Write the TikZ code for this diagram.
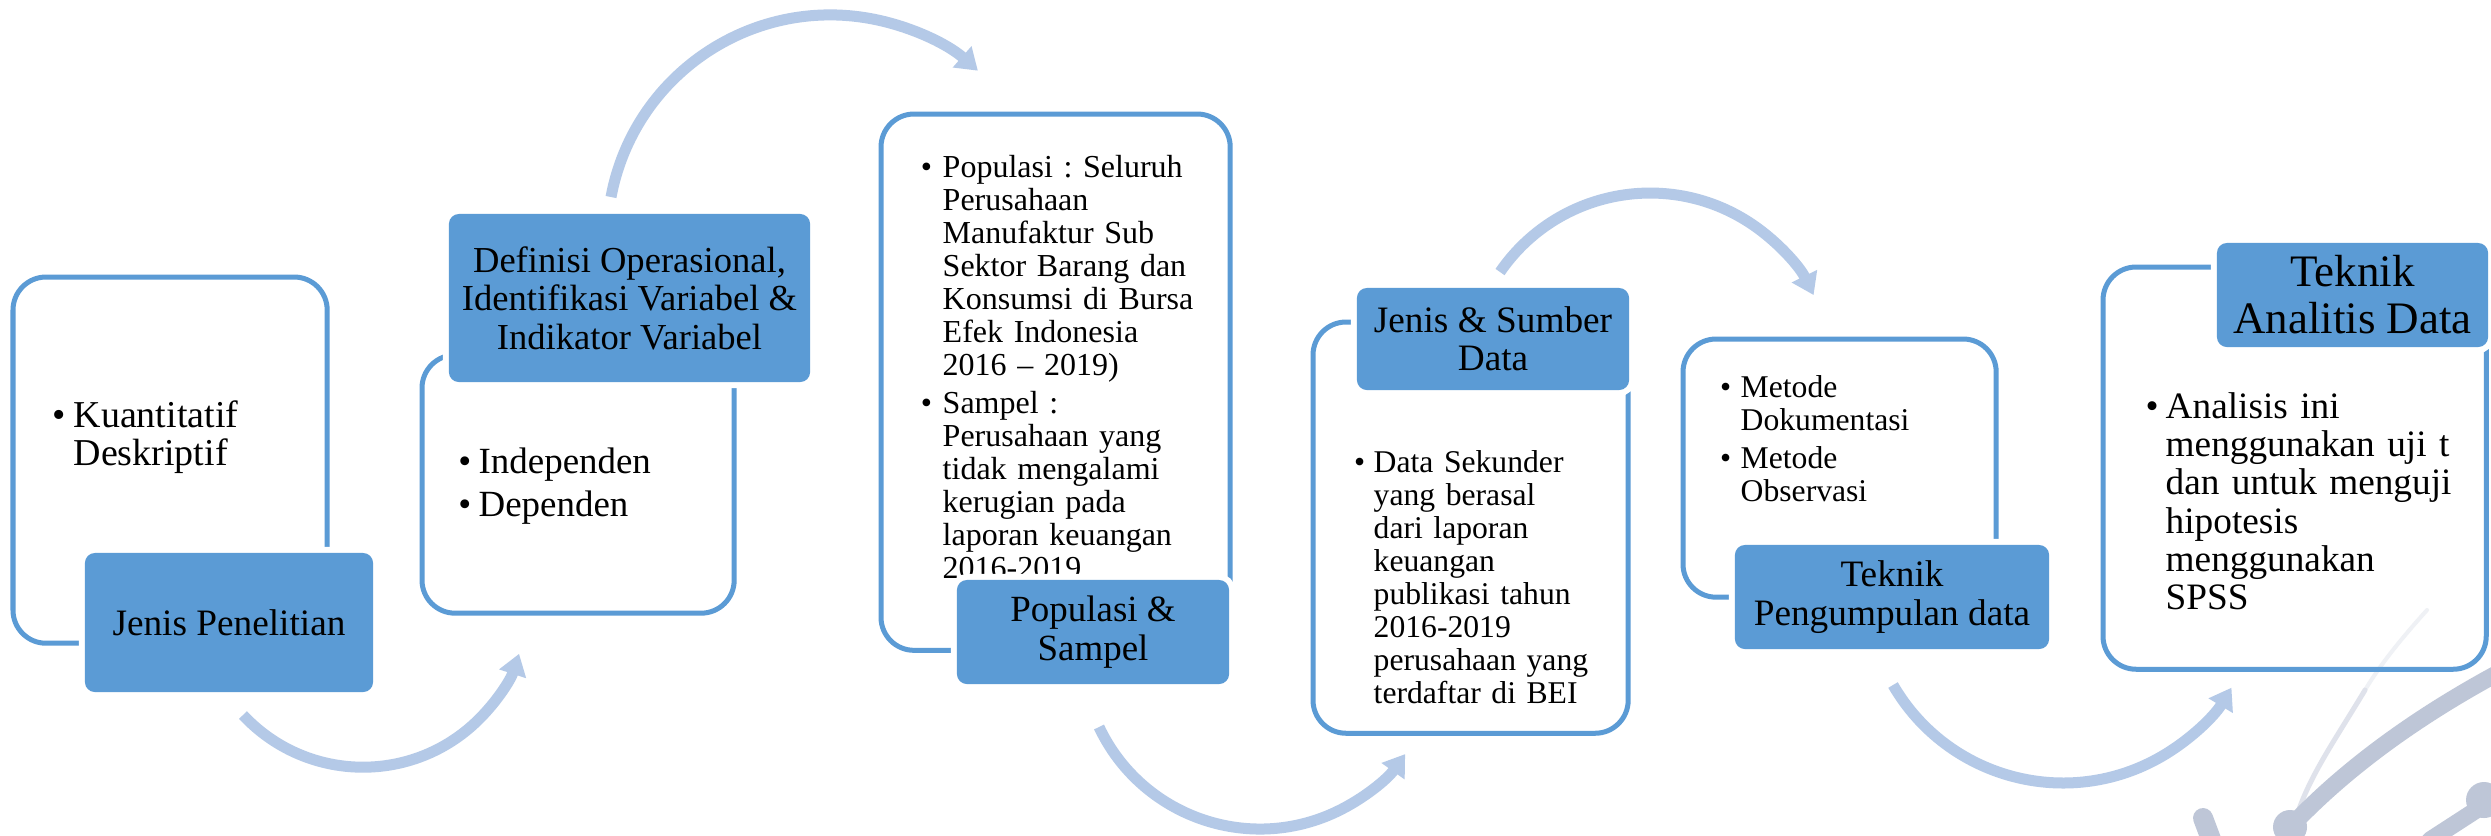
\documentclass[tikz,border=0pt]{standalone}
\usepackage{fontspec}
\setmainfont{Liberation Serif}
\usetikzlibrary{arrows.meta}
\definecolor{Accent}{HTML}{5B9BD5}
\definecolor{Flow}{HTML}{B4C9E7}
\definecolor{Mark}{HTML}{BEC6D7}
\frenchspacing
\newcommand{\bul}[1][0.2em]{\noindent\llap{\textbullet\hspace{#1}}\ignorespaces}
\tikzset{
  panel/.style={draw=Accent,line width=0.05cm,rounded corners=0.33cm,inner sep=0pt,outer sep=0pt,anchor=north west},
  tag/.style={fill=Accent,rounded corners=0.1cm,inner sep=0pt,align=center,text=black,preaction={draw=white,line width=0.12cm}},
  body/.style={anchor=base west,inner sep=0pt,text width=3.2cm,align=left},
  flow/.style={-{Triangle[width=0.27cm,length=0.21cm]},draw=Flow,line width=0.11cm},
  wmark/.style={draw=Mark,line cap=round}
}

\begin{document}
\begin{tikzpicture}[x=0.01cm,y=0.01cm]
  \useasboundingbox[fill=white] (0,0) rectangle (2491,-835);

  \begin{scope}
    \clip (0,0) rectangle (2491,-835);
    \draw[wmark,draw=Mark!25,line width=0.04cm] (2427,-610) .. controls (2400,-640) and (2380,-665) .. (2365,-690);
    \draw[wmark,draw=Mark!50,line width=0.05cm] (2365,-690) .. controls (2335,-740) and (2310,-775) .. (2297,-815);
    \draw[wmark,line width=0.17cm] (2500,-672) .. controls (2420,-715) and (2350,-765) .. (2295,-822);
    \fill[Mark] (2290,-827) circle (0.17cm);
    \draw[wmark,line width=0.2cm] (2203,-818) -- (2215,-850);
    \fill[Mark] (2484,-800) circle (0.18cm);
    \draw[wmark,line width=0.17cm] (2484,-805) -- (2430,-840);
  \end{scope}

  \node[panel,minimum width=3.14cm,minimum height=3.66cm] (p1) at (13,-277) {};
  \node[panel,minimum width=3.12cm,minimum height=2.58cm] (p2) at (422,-355) {};
  \node[panel,minimum width=3.49cm,minimum height=5.36cm] (p3) at (881,-114) {};
  \node[panel,minimum width=3.15cm,minimum height=4.11cm] (p4) at (1313,-322) {};
  \node[panel,minimum width=3.13cm,minimum height=2.58cm] (p5) at (1683,-339) {};
  \node[panel,minimum width=3.83cm,minimum height=4.02cm] (p6) at (2103,-267) {};

  \node[body,font=\fontsize{10.8}{10.8}\selectfont] (t1) at (73,-427) {\bul Kuantitatif\\Deskriptif};
  \node[body,font=\fontsize{10.5}{10.8}\selectfont] (t2) at (478,-473) {\bul Independen\\[1.7pt]\bul Dependen};
  \node[body,font=\fontsize{9.1}{9.4}\selectfont] (t3) at (942,-177) {\bul[0.33em] Populasi : Seluruh\\Perusahaan\\Manufaktur Sub\\Sektor Barang dan\\Konsumsi di Bursa\\Efek Indonesia\\2016 – 2019)\\[1.4pt]\bul[0.33em] Sampel :\\Perusahaan yang\\tidak mengalami\\kerugian pada\\laporan keuangan\\2016-2019};
  \node[body,font=\fontsize{9.0}{9.4}\selectfont] (t4) at (1373,-472) {\bul[0.27em] Data Sekunder\\yang berasal\\dari laporan\\keuangan\\publikasi tahun\\2016-2019\\perusahaan yang\\terdaftar di BEI};
  \node[body,font=\fontsize{9.0}{9.5}\selectfont] (t5) at (1740,-397) {\bul[0.3em] Metode\\Dokumentasi\\[1.3pt]\bul[0.3em] Metode\\Observasi};
  \node[body,font=\fontsize{10.6}{10.9}\selectfont] (t6) at (2165,-418) {\bul[0.19em] Analisis ini\\menggunakan~uji~t\\dan untuk menguji\\hipotesis\\menggunakan\\SPSS};

  \node[tag,minimum width=2.88cm,minimum height=1.39cm,font=\fontsize{10.6}{10.8}\selectfont] (l1) at (229,-622.5) {Jenis Penelitian};
  \node[tag,minimum width=3.61cm,minimum height=1.68cm,font=\fontsize{10.4}{10.95}\selectfont] (l2) at (629.5,-298) {Definisi Operasional,\\Identifikasi Variabel \&\\Indikator Variabel};
  \node[tag,minimum width=2.72cm,minimum height=1.04cm,font=\fontsize{10.5}{11.1}\selectfont] (l3) at (1093,-632) {Populasi \&\\Sampel};
  \node[tag,minimum width=2.72cm,minimum height=1.02cm,font=\fontsize{10.6}{10.8}\selectfont] (l4) at (1493,-339) {Jenis \& Sumber\\Data};
  \node[tag,minimum width=3.14cm,minimum height=1.04cm,font=\fontsize{10.6}{11.1}\selectfont] (l5) at (1892,-597) {Teknik\\Pengumpulan data};
  \node[tag,minimum width=2.71cm,minimum height=1.04cm,font=\fontsize{12.8}{13.4}\selectfont] (l6) at (2352.5,-295) {Teknik\\Analitis Data};

  \coordinate (f1) at (243,-715);
  \coordinate (f2) at (611,-197);
  \coordinate (f3) at (1099,-727);
  \coordinate (f4) at (1500,-272);
  \coordinate (f5) at (1893,-685);
  \draw[flow] (f1) arc[start angle=223,end angle=342,radius=1.64cm];
  \draw[flow] (f2) arc[start angle=169.4,end angle=48.6,radius=2.23cm];
  \draw[flow] (f3) arc[start angle=205.3,end angle=324.6,radius=1.78cm];
  \draw[flow] (f4) arc[start angle=145.5,end angle=26.1,radius=1.82cm];
  \draw[flow] (f5) arc[start angle=210.1,end angle=329,radius=1.964cm];
\end{tikzpicture}
\end{document}
